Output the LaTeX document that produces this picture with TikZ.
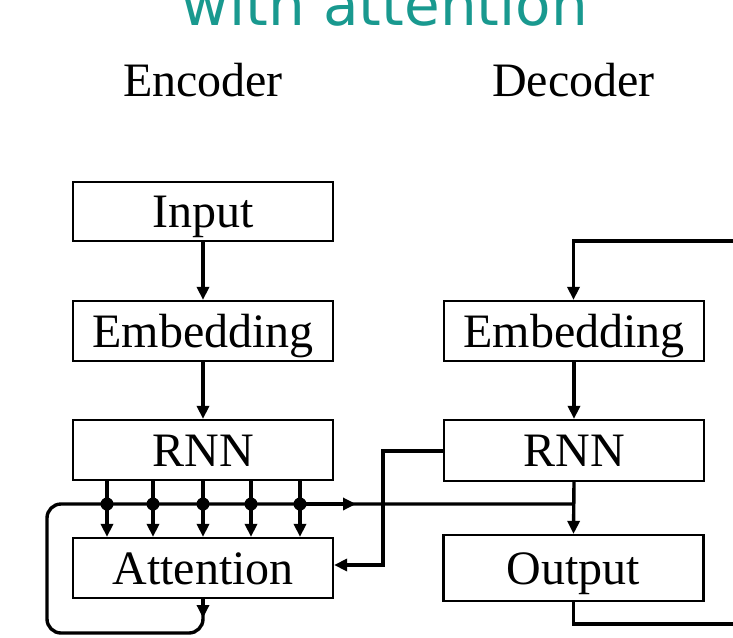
\documentclass[tikz,border=0pt]{standalone}
\usepackage{fontspec}
\setmainfont{Liberation Serif}
\newfontfamily\headfont{DejaVu Sans}
\usetikzlibrary{arrows.meta}
\definecolor{headteal}{RGB}{25,153,143}
\begin{document}
\begin{tikzpicture}[x=1pt,y=-1pt,
  box/.style={draw, line width=2.2pt, minimum width=260pt, minimum height=60pt,
    inner sep=0pt, font=\fontsize{48}{48}\selectfont, text height=32pt, text depth=0pt},
  conn/.style={line width=3.4pt},
  tip/.style={-{Triangle[length=13pt,width=12pt]}},
  junction/.style={circle, fill, inner sep=0pt, minimum size=13pt},
  heading/.style={anchor=base, font=\fontsize{48}{48}\selectfont}]
\useasboundingbox (0,0) rectangle (733,637);
\clip (0,0) rectangle (733,637);

% titles
\node[anchor=base, font=\headfont\fontsize{58}{58}\selectfont, text=headteal] (title) at (385,25) {with attention};
\node[heading] (enc) at (203,96) {Encoder};
\node[heading] (dec) at (573.5,96) {Decoder};

% encoder column
\node[box, minimum height=59pt] (in) at (203,211.5) {Input};
\node[box] (eemb) at (203,331) {Embedding};
\node[box] (ernn) at (203,450) {RNN};
\node[box] (att) at (203,568) {Attention};

% decoder column
\node[box] (demb) at (574,331) {Embedding};
\node[box, minimum height=61pt] (drnn) at (574,450.5) {RNN};
\node[box, minimum height=66pt] (out) at (573.5,568) {Output};

% straight feeds
\draw[conn,tip] (in) -- (eemb);
\draw[conn,tip] (eemb) -- (ernn);
\draw[conn,tip] (demb) -- (drnn);

% context bus and junctions
\coordinate (bus) at (573.5,504);
\foreach \i/\x in {1/107,2/153,3/203,4/251,5/300}{
  \coordinate (j\i) at (\x,504);
  \draw[conn,tip] (ernn.south -| j\i) -- (att.north -| j\i);
}
\coordinate (loopR) at (203,633);
\coordinate (loopL) at (47,633);
\coordinate (loopT) at (47,504);
\coordinate (midA) at (203,618);
\coordinate (midB) at (356,504);
\draw[conn,tip] (att.south) -- (midA);
\draw[conn, rounded corners=14pt] (att.south) -- (loopR) -- (loopL) -- (loopT) -- (bus);
\draw[conn,tip] (j5) -- (midB);
\draw[conn,tip] (drnn.south) -- (out.north);
\foreach \i in {1,...,5}{ \node[junction] at (j\i) {}; }

% decoder state to attention
\coordinate (qa) at (383,451);
\coordinate (qb) at (383,565);
\draw[conn,tip] (drnn.west |- qa) -- (qa) -- (qb) -- (att.east |- qb);

% output fed back to the decoder embedding
\coordinate (ob) at (573.5,624);
\coordinate (oe) at (745,624);
\coordinate (fe) at (745,241);
\coordinate (fb) at (573.5,241);
\draw[conn] (out.south) -- (ob) -- (oe);
\draw[conn,tip] (fe) -- (fb) -- (demb.north -| fb);
\end{tikzpicture}
\end{document}
